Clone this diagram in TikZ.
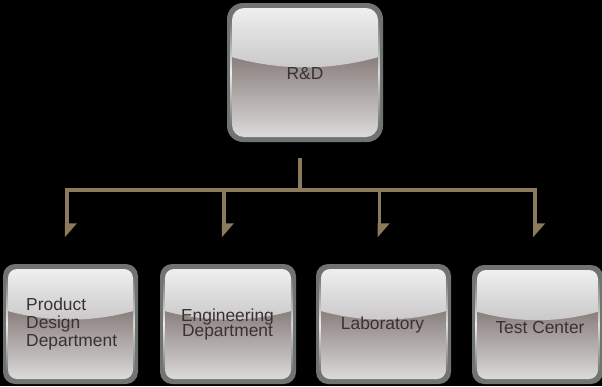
\documentclass[tikz,border=0pt]{standalone}
\usepackage{fontspec}
\setmainfont{Liberation Sans}
\usetikzlibrary{calc}
\definecolor{bezel}{HTML}{707471}
\definecolor{hiTop}{HTML}{EFEFEF}
\definecolor{hiBot}{HTML}{C8C6C6}
\definecolor{loTop}{HTML}{887E7C}
\definecolor{loBot}{HTML}{DCDADA}
\definecolor{txt}{HTML}{3A3232}
\definecolor{conn}{HTML}{8B7A5C}
\newcommand\tightls{\lineskiplimit=-10pt\relax}
% #1 name, #2 x1, #3 y1, #4 x2, #5 y2, #6 outer radius, #7 inner radius
\newcommand\glossbox[7]{%
  \pgfmathsetmacro\gbye{#3+5+0.37*(#5-#3-10)}%
  \pgfmathsetmacro\gbym{#3+5+0.46*(#5-#3-10)}%
  \pgfmathsetmacro\gbyc{\gbye+4/3*(\gbym-\gbye)}%
  \pgfmathsetmacro\gbxa{#2+(#4-#2)/3}%
  \pgfmathsetmacro\gbxb{#4-(#4-#2)/3}%
  \pgfmathsetmacro\gbxm{(#2+#4)/2}%
  \pgfmathsetmacro\gbymid{(#3+#5)/2}%
  \pgfmathsetmacro\gbw{#4-#2}%
  \pgfmathsetmacro\gbh{#5-#3}%
  \fill[bezel, rounded corners=#6pt] (#2,#3) rectangle (#4,#5);
  \shade[top color=bezel, bottom color=bezel, middle color=white!88!bezel]
    (#2+3.2,#3+#6) rectangle (#2+5,#5-#6);
  \shade[top color=bezel, bottom color=bezel, middle color=white!75!bezel]
    (#4-5,#3+#6) rectangle (#4-3.4,#5-#6);
  \begin{scope}
    \clip[rounded corners=#7pt] (#2+5,#3+5) rectangle (#4-5,#5-5);
    \shade[top color=loTop, bottom color=loBot] (#2+5,\gbye) rectangle (#4-5,#5-5);
    \shade[top color=hiTop, bottom color=hiBot]
      (#2,#3+5) -- (#2,\gbye) .. controls (\gbxa,\gbyc) and (\gbxb,\gbyc) .. (#4,\gbye) -- (#4,#3+5) -- cycle;
  \end{scope}
  \node[minimum width=\gbw pt, minimum height=\gbh pt, inner sep=0pt] (#1) at (\gbxm,\gbymid) {};
}
\tikzset{
  lbl/.style={text=txt, inner sep=0pt, font=\fontsize{17.4}{17.5}\selectfont},
  connline/.style={draw=conn, line width=3.8pt, line join=miter},
}
\begin{document}
\begin{tikzpicture}[x=1pt,y=-1pt]
  \fill[black] (0,0) rectangle (602,386);
  \clip (0,0) rectangle (602,386);

  \glossbox{rd}{227}{3}{383}{142}{16}{12}
  \glossbox{pdd}{3}{264}{138}{384}{12}{9}
  \glossbox{eng}{160}{264}{296}{384}{12}{9}
  \glossbox{lab}{316}{264}{451}{384}{12}{9}
  \glossbox{test}{472}{265}{603}{384}{12}{9}

  \node[lbl, anchor=base] (rdt) at (305,79.3) {R\&D};
  \node[lbl, anchor=north west, align=left,
        font={\fontsize{17.4}{17.8}\selectfont\tightls}] (pddt) at (26,298.1)
        {Product\\Design\\Department};
  \node[lbl, anchor=north, align=center,
        font={\fontsize{17.4}{15.7}\selectfont\tightls}] (engt) at (227.5,308.2)
        {Engineering\\Department};
  \node[lbl, anchor=base] (labt) at (382.5,329) {Laboratory};
  \node[lbl, anchor=base] (testt) at (540,333) {Test Center};

  % connectors
  \coordinate (trunk) at ($(rd.south)+(-5,16)$);
  \coordinate (bus) at (300,189.7);
  \coordinate (d1) at (66.7,224);
  \coordinate (d2) at (223.7,224);
  \coordinate (d3) at (379.5,224);
  \coordinate (d4) at (535,224);
  \foreach \d in {d1,d2,d3,d4}{
    \draw[connline] (trunk) -- (bus) -| (\d);
    \fill[conn] ($(\d)+(-1.9,-0.6)$) -- ($(\d)+(10.2,-0.6)$) -- ($(\d)+(-1.9,13.2)$) -- cycle;
  }
\end{tikzpicture}
\end{document}
